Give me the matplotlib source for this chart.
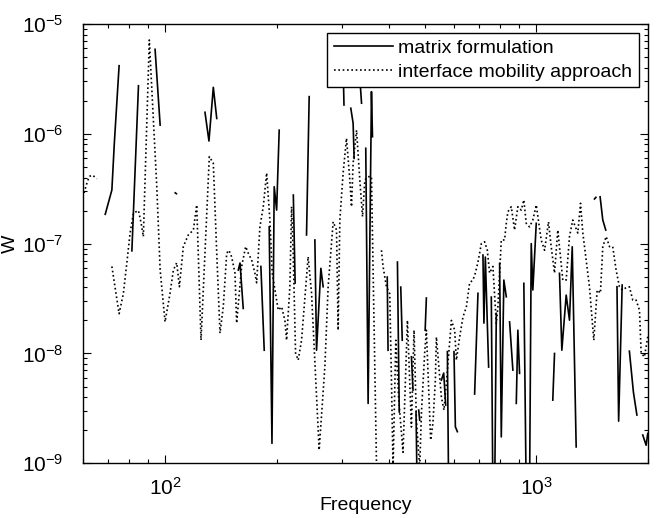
import numpy as np
import matplotlib
matplotlib.use('Agg')
import matplotlib.pyplot as plt
from matplotlib.ticker import LogLocator, FixedLocator, FuncFormatter, NullFormatter

nan = np.nan

# interface mobility approach (dotted)
mobility_freq = [
    60.5, 61.8, 62.6, 63.8, 65.5, nan, 71.9, 75.2, 77.2, 78.9,
    80.5, 82.2, 84.8, 86.2, 87.4, 90.7, 93.0, 95.0, 97.0, 100.0,
    103.1, 105.3, 107.5, 109.3, 112.0, 115.5, 119.2, 121.7, 125.0, 131.6,
    134.9, 137.8, 140.6, 143.5, 146.6, 148.6, 151.1, 154.3, 155.9, 160.8,
    164.9, 167.5, 171.1, 174.6, 176.5, 180.1, 183.9, 187.8, 191.6, 194.4,
    201.8, 206.1, 210.3, 212.5, 216.9, 219.2, 221.4, 224.7, 228.4, 233.2,
    242.9, 248.1, 260.1, 269.5, 275.0, 283.7, 289.7, 292.6, 295.7, 301.8,
    308.2, 314.6, 317.9, 321.1, 328.0, 334.7, 340.4, 345.3, 352.4, 359.8,
    372.5, nan, 382.8, 386.6, 394.8, 403.0, 407.3, 411.4, 418.4, 426.1,
    437.6, 449.7, 461.0, 468.5, 475.5, 485.3, 490.5, 500.5, 505.8, 519.4,
    526.8, 534.8, 538.2, 555.2, 564.2, 572.7, 590.7, 602.9, 609.3, 621.8,
    634.7, 648.2, 661.5, 675.2, 685.4, 696.6, 711.3, 725.9, 738.2, 748.7,
    764.2, 780.5, 788.3, 805.0, 821.6, 830.4, 838.6, 856.4, 874.1, 892.2,
    911.1, 925.9, 939.8, 959.1, 979.0, 1000, 1031, 1053, 1079, 1097,
    1120, 1143, 1179, 1204, 1229, 1254, 1294, 1316, 1335, 1363,
    1391, 1429, 1459, 1489, 1511, 1543, 1575, 1607, 1641, 1675,
    1707, 1739, 1782, 1820, 1858, 1897, 1917, 1956, 1997,
]
mobility_w = [
    2.9e-7, 3.7e-7, 4.1e-7, 4.2e-7, 3.9e-7, nan, 6.2e-8, 2.3e-8, 3.5e-8, 6.7e-8,
    1.25e-7, 1.9e-7, 2.0e-7, 1.54e-7, 1.16e-7, 7.15e-6, 1.34e-6, 3.3e-7, 5.75e-8, 1.94e-8,
    3.5e-8, 5.75e-8, 6.7e-8, 4.05e-8, 9.4e-8, 1.2e-7, 1.33e-7, 2.25e-7, 1.32e-8, 6.2e-7,
    5.4e-7, 8.2e-8, 1.53e-8, 2.66e-8, 8.2e-8, 8.7e-8, 7.6e-8, 5.4e-8, 1.89e-8, 6.2e-8,
    9.4e-8, 8.2e-8, 7.1e-8, 5.4e-8, 4.4e-8, 1.42e-7, 2.17e-7, 4.4e-7, 1.64e-7, 5.4e-8,
    2.48e-8, 2.66e-8, 2.0e-8, 1.32e-8, 4.05e-8, 2.17e-7, 8.2e-8, 1.01e-8, 8.7e-9, 1.32e-8,
    7.6e-8, 3.55e-8, 1.32e-9, 7.6e-9, 4.05e-8, 1.58e-7, 1.33e-7, 1.63e-8, 1.64e-7, 4.4e-7,
    9.1e-7, 3.8e-7, 2.17e-7, 5.4e-7, 1.08e-6, 3.8e-7, 1.76e-7, 3.8e-7, 4.07e-7, 4.07e-7,
    5e-10, nan, 8.7e-8, 6.2e-8, 4.05e-8, 3.5e-8, 5.7e-9, 9e-10, 1.32e-8, 3.8e-9,
    1.26e-9, 2.0e-8, 2.14e-9, 1.63e-8, 2.47e-9, 9e-10, 2.87e-9, 1.01e-8, 1.63e-8, 1.63e-9,
    2.32e-9, 5.7e-9, 1.41e-8, 4.0e-9, 3.05e-9, 5.4e-9, 2.0e-8, 1.63e-8, 8.7e-9, 1.41e-8,
    2.15e-8, 2.65e-8, 4.4e-8, 4.66e-8, 5.4e-8, 6.8e-8, 1.0e-7, 1.04e-7, 8.7e-8, 5.4e-8,
    6.2e-8, 1.88e-8, 2.66e-8, 1.08e-7, 1.08e-7, 1.53e-7, 1.95e-7, 2.17e-7, 1.33e-7, 2.17e-7,
    2.02e-7, 2.5e-7, 1.53e-7, 1.42e-7, 1.64e-7, 2.25e-7, 1.08e-7, 8.7e-8, 1.58e-7, 9.4e-8,
    5.4e-8, 1.33e-7, 4.66e-8, 4.66e-8, 1.16e-7, 1.64e-7, 1.25e-7, 2.33e-7, 1.25e-7, 7.1e-8,
    4.05e-8, 1.32e-8, 3.78e-8, 3.55e-8, 9.4e-8, 1.16e-7, 9.4e-8, 9.4e-8, 5.75e-8, 4.05e-8,
    3.78e-8, 3.94e-8, 4.05e-8, 3.06e-8, 3.06e-8, 2.48e-8, 1.01e-8, 9.3e-9, 1.42e-8,
]

# matrix formulation (solid), gaps where the value was not positive
matrix_freq = [
    69.0, 71.9, 73.0, 75.2, nan,
    81.4, 84.8, nan,
    94.0, 97.0, nan,
    106.5, 107.3, nan,
    128.1, 131.3, 134.9, 137.8, nan,
    157.5, 159.2, 162.4, nan,
    181.2, 185.0, nan,
    190.8, 194.1, 196.8, 199.8, 203.0, nan,
    221.6, 224.1, nan,
    240.5, 244.5, nan,
    253.3, 255.9, 262.9, 266.6, nan,
    302.7, 303.4, nan,
    316.5, 321.1, 323.1, nan,
    336.2, 338.3, nan,
    347.3, 352.4, 359.8, 362.1, nan,
    396.8, 398.8, nan,
    422.7, 427.5, nan,
    431.5, 435.5, nan,
    461.0, 465.6, nan,
    474.4, 477.9, nan,
    482.3, 485.3, nan,
    502.0, 505.8, nan,
    555.2, 563.2, 570.2, nan,
    576.2, 580.9, nan,
    600.3, 605.5, 613.1, nan,
    682.3, 696.6, nan,
    718.5, 722.8, 729.2, 744.2, nan,
    756.7, 764.2, nan,
    772.5, 780.5, nan,
    796.7, 805.0, 817.9, 830.4, nan,
    847.5, 865.0, nan,
    883.5, 892.2, 901.6, nan,
    925.9, 939.8, nan,
    959.1, 969.4, 979.0, 1000, nan,
    1108, 1120, nan,
    1155, 1172, 1204, 1229, 1250, 1281, nan,
    1435, 1448, nan,
    1486, 1511, 1539, nan,
    1650, 1667, 1704, nan,
    1782, 1827, 1867, nan,
    1936, 1977, 1997,
]
matrix_w = [
    1.85e-7, 3.08e-7, 8.2e-7, 4.17e-6, nan,
    8.6e-8, 2.74e-6, nan,
    5.88e-6, 1.2e-6, nan,
    2.9e-7, 2.85e-7, nan,
    1.57e-6, 8.6e-7, 2.65e-6, 1.38e-6, nan,
    5.75e-8, 6.66e-8, 2.57e-8, nan,
    6.2e-8, 1.07e-8, nan,
    1.42e-7, 1.52e-9, 3.3e-7, 2.02e-7, 1.08e-6, nan,
    2.77e-7, 4.38e-8, nan,
    1.2e-7, 2.18e-6, nan,
    1.08e-7, 1.07e-8, 5.96e-8, 4.05e-8, nan,
    2.61e-6, 1.83e-6, nan,
    1.71e-6, 1.25e-6, 5.98e-7, nan,
    2.6e-6, 1.9e-6, nan,
    7.38e-7, 3.51e-9, 2.42e-6, 9.41e-7, nan,
    4.96e-8, 1.07e-8, nan,
    6.8e-8, 2.93e-9, nan,
    4.02e-8, 1.32e-8, nan,
    9.33e-9, 4.64e-9, nan,
    2.93e-9, 5e-10, nan,
    3.05e-9, 2.47e-9, nan,
    1.63e-8, 3.2e-8, nan,
    5.72e-9, 6.63e-9, 3.39e-9, nan,
    1.04e-8, 5e-10, nan,
    1.04e-8, 2.15e-9, 1.94e-9, nan,
    4.27e-9, 3.53e-8, nan,
    7.87e-8, 1.89e-8, 7.55e-8, 7.52e-9, nan,
    3.26e-8, 5e-10, nan,
    5e-10, 2.32e-8, nan,
    6.61e-8, 1.74e-9, 4.66e-8, 3.28e-8, nan,
    1.94e-8, 7.06e-9, nan,
    3.51e-9, 1.63e-8, 6.59e-9, nan,
    4.35e-8, 5e-10, nan,
    5e-10, 1.0e-7, 3.78e-8, 1.53e-7, nan,
    3.76e-9, 1.0e-8, nan,
    5.37e-8, 1.07e-8, 3.4e-8, 2.01e-8, 9.37e-8, 1.41e-9, nan,
    2.55e-7, 2.64e-7, nan,
    2.67e-7, 1.64e-7, 1.33e-7, nan,
    4.05e-8, 2.42e-9, 4.2e-8, nan,
    1.05e-8, 4.45e-9, 2.75e-9, nan,
    1.81e-9, 1.46e-9, 1.87e-9,
]

x_ticks = [100, 1000]
y_ticks = [1e-9, 1e-8, 1e-7, 1e-6, 1e-5]

plt.rcParams['font.family'] = ['Liberation Sans', 'DejaVu Sans']
plt.rcParams['font.size'] = 14

fig = plt.figure(figsize=(6.59, 5.18), dpi=100)
ax = fig.add_axes([0.1255, 0.1056, 0.8578, 0.8481])

ax.plot(matrix_freq, matrix_w, color='black', linewidth=1.2,
        label='matrix formulation')
ax.plot(mobility_freq, mobility_w, color='black', linewidth=1.2,
        linestyle=(0, (1, 1.6)), label='interface mobility approach')

ax.set_xscale('log')
ax.set_yscale('log')
ax.set_xlim(60, 2000)
ax.set_ylim(1e-9, 1e-5)

fmt = FuncFormatter(lambda v, pos: r'$\mathdefault{10^{%d}}$' % round(np.log10(v)))
ax.xaxis.set_major_locator(FixedLocator(x_ticks))
ax.yaxis.set_major_locator(FixedLocator(y_ticks))
ax.xaxis.set_major_formatter(fmt)
ax.yaxis.set_major_formatter(fmt)
ax.xaxis.set_minor_locator(LogLocator(base=10, subs=np.arange(2, 10)))
ax.yaxis.set_minor_locator(LogLocator(base=10, subs=np.arange(2, 10)))
ax.xaxis.set_minor_formatter(NullFormatter())
ax.yaxis.set_minor_formatter(NullFormatter())
ax.tick_params(which='both', direction='in', top=True, right=True, width=0.8)
ax.tick_params(which='major', length=6, labelsize=15)
ax.tick_params(which='minor', length=3)
ax.tick_params(axis='y', which='major', pad=14)
ax.tick_params(axis='x', which='major', pad=10)
for s in ax.spines.values():
    s.set_linewidth(1.0)

ax.set_xlabel('Frequency', fontsize=14, va='center')
ax.set_ylabel('W', fontsize=14, va='center')
ax.xaxis.set_label_coords(0.5, -0.097)
ax.yaxis.set_label_coords(-0.128, 0.5)

leg = ax.legend(loc='upper right', fancybox=False, framealpha=1,
                edgecolor='black', handlelength=3.0, handletextpad=0.3,
                borderaxespad=0.45, fontsize=14, labelspacing=0.3,
                borderpad=0.35)
leg.get_frame().set_linewidth(1.0)

fig.savefig('out.png', dpi=100)
